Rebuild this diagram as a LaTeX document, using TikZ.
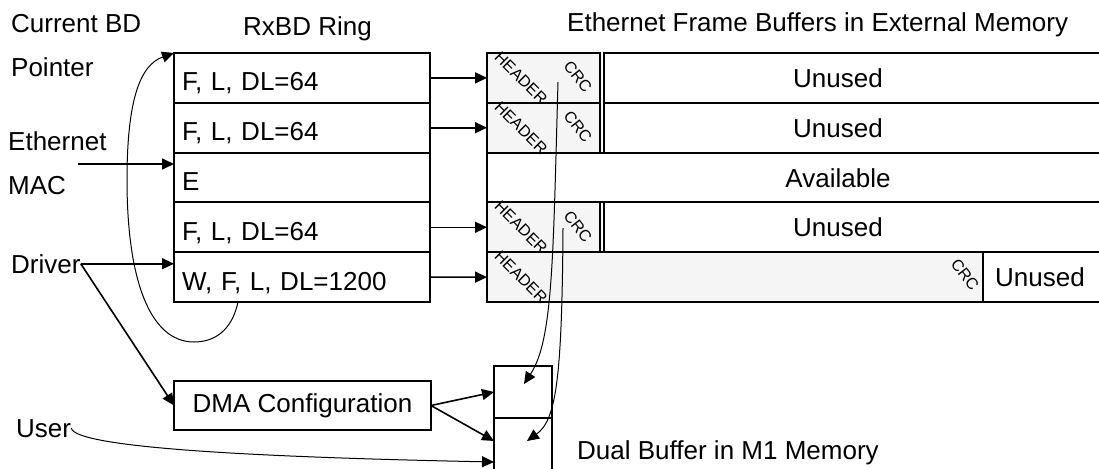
\documentclass[tikz,border=0pt]{standalone}
\usepackage{fontspec}
\setmainfont{Liberation Sans}
\usetikzlibrary{arrows.meta,positioning}
\definecolor{hdrgray}{gray}{0.96}
\tikzset{
  cell/.style={draw, line width=2pt, inner sep=0pt, outer sep=0pt, anchor=north west, minimum height=49.8pt},
  ringrow/.style={cell, minimum width=256pt, text width=240pt, align=left, inner xsep=8pt, text height=26pt, text depth=0pt},
  hdrbox/.style={cell, fill=hdrgray},
  tag/.style={inner sep=0pt, font=\fontsize{16}{19}\selectfont},
  lbl/.style={inner sep=0pt, anchor=base west},
  celltxt/.style={inner sep=0pt, text height=19pt, text depth=0pt},
  arr/.style={-{Triangle[length=12pt,width=11pt]}, line width=1.6pt},
  curv/.style={-{Triangle[length=12pt,width=11pt]}, line width=1pt}
}
\begin{document}
\begin{tikzpicture}[x=1pt, y=-1pt, font=\fontsize{26}{31}\selectfont]
\useasboundingbox (0,0) rectangle (1099,468);
% Labels
\node[lbl] (cbd) at (11,33) {Current BD};
\node[lbl] (ptr) at (11,77) {Pointer};
\node[lbl] (ringt) at (243,36) {RxBD Ring};
\node[lbl] (buft) at (567,32) {Ethernet Frame Buffers in External Memory};
\node[lbl] (eth) at (8,150) {Ethernet};
\node[lbl] (mac) at (8,194) {MAC};
\node[lbl] (drv) at (11,273) {Driver};
\node[lbl] (usr) at (16,437) {User};
\node[lbl] (dbt) at (577,459) {Dual Buffer in M1 Memory};
% RxBD ring
\foreach \i/\txt in {1/{F, L, DL=64},2/{F, L, DL=64},3/E,4/{F, L, DL=64},5/{W, F, L, DL=1200}}
  \node[ringrow] (r\i) at (174,{53+49.8*(\i-1)}) {\txt};
% Frame buffers
\foreach \i in {1,2,4} {
  \node[hdrbox, minimum width=113pt] (h\i) at (487,{53+49.8*(\i-1)}) {};
  \node[cell, minimum width=520pt] (u\i) at (604,{53+49.8*(\i-1)}) {};
  \node[celltxt] (t\i) at (838,{78+49.8*(\i-1)}) {Unused};
  \node[tag, rotate=-45] (hd\i) at (521,{78+49.8*(\i-1)}) {HEADER};
  \node[tag, rotate=-52] (crc\i) at (578,{77+49.8*(\i-1)}) {CRC};
}
\node[cell, minimum width=623pt] (a3) at (487,152.6) {};
\node[celltxt] (t3) at (838,177.5) {Available};
\node[hdrbox, minimum width=496pt] (h5) at (487,252.2) {};
\node[cell, minimum width=130pt] (u5) at (983,252.2) {};
\node[celltxt] (t5) at (1040,277) {Unused};
\node[tag, rotate=-45] (hd5) at (521,277) {HEADER};
\node[tag, rotate=-52] (crc5) at (965,275) {CRC};
% DMA and dual buffer
\node[cell, minimum width=257pt, minimum height=49pt] (dma) at (174,381) {DMA Configuration};
\node[cell, minimum width=58pt, minimum height=52pt] (db1) at (494,366) {};
\node[cell, minimum width=58pt, minimum height=54pt] (db2) at (494,418) {};
% Connectors
\foreach \i in {1,2,4,5}
  \draw[arr] (r\i.east) -- (h\i.west);
\coordinate (macout) at (78,164);
\draw[arr] (macout) -- (r3.west |- macout);
\draw[arr] (drv.east) -- (r5.west |- drv.east);
\draw[arr] (drv.east) -- (dma.west);
\draw[arr] (dma.east) -- (db1.west);
\draw[arr] (dma.east) -- ([yshift=4pt]db2.west);
% Current BD pointer
\draw[curv] ([xshift=64pt]r5.south west) .. controls (232,330) and (215,342) .. (194,342)
  .. controls (150,342) and (127,280) .. (127,180)
  .. controls (127,100) and (140,65) .. (r1.north west);
% User
\draw[curv] (usr.east) .. controls (76,450) and (300,458) .. ([yshift=10pt]db2.south west);
% Frames to dual buffer
\coordinate (f1) at (558,82);
\coordinate (f4) at (563,228);
\draw[curv] (f1) .. controls (553,260) and (553,340) .. ([shift={(1pt,8pt)}]db1.center);
\draw[curv] (f4) .. controls (562,380) and (556,420) .. ([shift={(4pt,4pt)}]db2.center);
\end{tikzpicture}
\end{document}
